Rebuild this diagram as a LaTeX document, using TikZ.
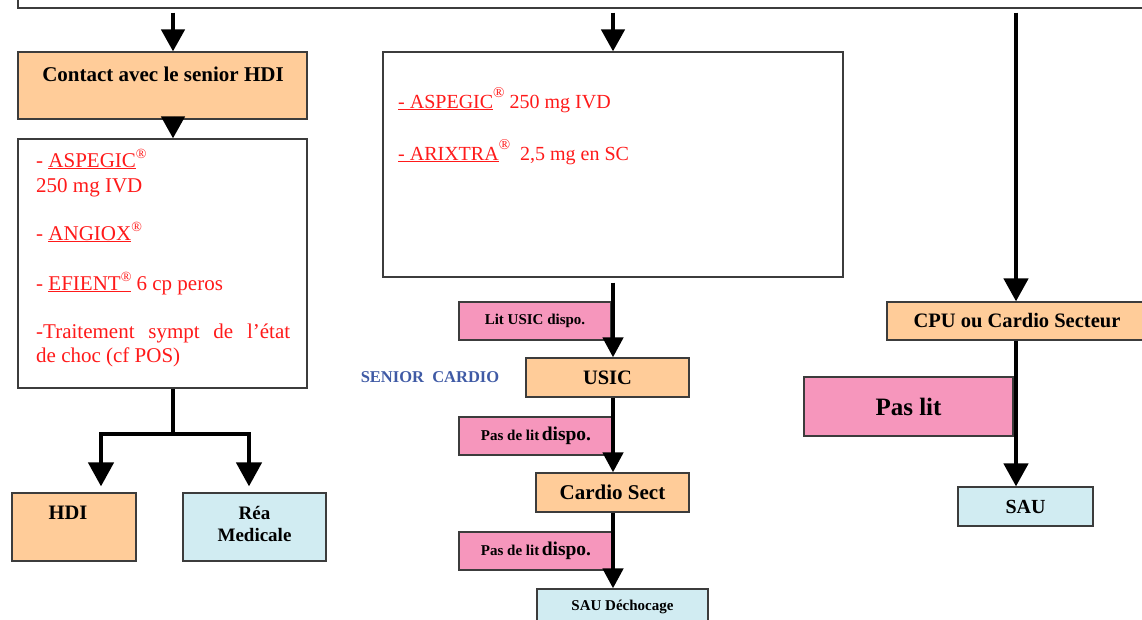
\documentclass[tikz,border=0pt]{standalone}
\usepackage{fontspec}
\setmainfont{Liberation Serif}
\usetikzlibrary{arrows.meta}
\definecolor{peach}{HTML}{FFCC99}
\definecolor{pinkl}{HTML}{F696BC}
\definecolor{lblue}{HTML}{D1ECF2}
\definecolor{sblue}{HTML}{3F5AA5}
\definecolor{bord}{HTML}{3C3C3C}
\definecolor{redt}{HTML}{FF1A1A}
\newcommand\myfs[2]{\fontsize{#1}{#2}\selectfont}
\newcommand\myreg[2]{\raisebox{#2}{\myfs{#1}{#1}®}}
\begin{document}
\begin{tikzpicture}[x=1pt,y=-1pt,
  box/.style={draw=bord, line width=1.2pt, inner sep=0pt, align=center, font=\bfseries},
  peachbox/.style={box, fill=peach},
  pinkbox/.style={box, fill=pinkl},
  bluebox/.style={box, fill=lblue},
  whitebox/.style={box, fill=white},
  txt/.style={inner sep=0pt, align=center, font=\bfseries},
  redtxt/.style={inner sep=0pt, anchor=base west, text=redt},
  ln/.style={line width=4.5pt, draw=black},
  arr/.style={ln, -{Triangle[width=23pt,length=22pt]}},
  arrm/.style={ln, -{Triangle[width=20pt,length=20pt]}},
]
\useasboundingbox (0,0) rectangle (1142,619);
\clip (0,0) rectangle (1142,619);

% top box
\node[whitebox, minimum width=1144pt, minimum height=56pt] (topbox) at (590,-20) {};

% column coordinates
\coordinate (colL) at (173,0);
\coordinate (colR) at (1016,0);

% left column
\node[peachbox, minimum width=289pt, minimum height=67pt] (contact) at (162.5,85.5) {};
\node[txt, font=\bfseries\myfs{21}{24}] (contactT) at (163,74) {Contact avec le senior HDI};

\node[whitebox, minimum width=289pt, minimum height=249pt] (leftbox) at (162.5,263.5) {};
\begin{scope}[every node/.style={redtxt, font=\myfs{21}{24}}]
\node (l1) at (36,167) {- \underline{ASPEGIC}\myreg{14}{9pt}};
\node (l2) at (36,192) {250 mg IVD};
\node (l3) at (36,240) {- \underline{ANGIOX}\myreg{14}{9pt}};
\node (l4) at (36,290) {- \underline{EFIENT\myreg{14}{9pt}} 6 cp peros};
\node (l5) at (36,338) {\makebox[254pt][s]{-Traitement sympt de l’état}};
\node (l6) at (36,362) {de choc (cf POS)};
\end{scope}

\node[peachbox, minimum width=124pt, minimum height=68pt] (hdi) at (74,527) {};
\node[txt, font=\bfseries\myfs{20.5}{24}] (hdiT) at (68,513) {HDI};
\node[bluebox, minimum width=143pt, minimum height=68pt] (rea) at (254.5,527) {};
\node[txt, font=\bfseries\myfs{19}{22}] (reaT) at (254.5,524) {Réa\\Medicale};

% middle column
\node[whitebox, minimum width=460pt, minimum height=225pt] (midbox) at (613,164.5) {};
\begin{scope}[every node/.style={redtxt, font=\myfs{20}{24}}]
\node (m1) at (398,108) {\underline{- ASPEGIC}\myreg{15}{11pt} 250 mg IVD};
\node (m2) at (398,160) {\underline{- ARIXTRA}\myreg{15}{11pt}\ \ 2,5 mg en SC};
\end{scope}

\node[pinkbox, minimum width=152pt, minimum height=38pt, font=\bfseries\myfs{15}{18}] (litusic) at (535,321) {Lit USIC dispo.};
\node[txt, text=sblue, font=\bfseries\myfs{16.5}{20}] (senior) at (430,377) {SENIOR\ \ CARDIO};
\node[peachbox, minimum width=163pt, minimum height=39pt, font=\bfseries\myfs{20.5}{24}] (usic) at (607.5,377.5) {USIC};
\node[pinkbox, minimum width=154pt, minimum height=38pt] (pasdelit1) at (536,436) {{\myfs{15}{18}Pas de lit} {\myfs{19.5}{22}dispo.}};
\node[peachbox, minimum width=153pt, minimum height=39pt, font=\bfseries\myfs{21}{24}] (cardio) at (612.5,492.5) {Cardio Sect};
\node[pinkbox, minimum width=154pt, minimum height=38pt] (pasdelit2) at (536,551) {{\myfs{15}{18}Pas de lit} {\myfs{19.5}{22}dispo.}};
\node[bluebox, minimum width=171pt, minimum height=36pt, font=\bfseries\myfs{15}{18}] (saud) at (622.5,607) {SAU Déchocage};

% right column
\node[peachbox, minimum width=260pt, minimum height=38pt, font=\bfseries\myfs{20.5}{24}] (cpu) at (1017,321) {CPU ou Cardio Secteur};
\node[pinkbox, minimum width=209pt, minimum height=59pt, font=\bfseries\myfs{25}{28}] (paslit) at (908.5,406.5) {Pas lit};
\node[bluebox, minimum width=135pt, minimum height=39pt, font=\bfseries\myfs{20}{24}] (sau) at (1025.5,506.5) {SAU};

% connectors left
\draw[arr] ([yshift=-4pt]topbox.south -| colL) -- (contact.north -| colL);
\draw[arr] ([yshift=3pt]contact.south -| colL) -- (leftbox.north -| colL);
\coordinate (jn) at (173,434);
\coordinate (bl) at (101,434);
\coordinate (br) at (249,434);
\draw[ln] (leftbox.south -| jn) -- (jn);
\draw[arr, -{Triangle[width=25pt,length=24pt]}] (jn) -- (bl) -- ([yshift=6pt]bl |- hdi.north);
\draw[arr, -{Triangle[width=25pt,length=24pt]}] (jn) -- (br) -- ([yshift=6pt]br |- rea.north);

% connectors middle
\draw[arr] ([yshift=-4pt]topbox.south -| midbox.north) -- (midbox.north);
\draw[arrm] ([yshift=-5pt]midbox.south) -- (midbox.south |- usic.north);
\draw[arrm] (midbox.south |- usic.south) -- (midbox.south |- cardio.north);
\draw[arrm] (midbox.south |- cardio.south) -- (midbox.south |- saud.north);

% connectors right
\draw[arr, -{Triangle[width=24pt,length=23pt]}] ([yshift=-4pt]topbox.south -| colR) -- (colR |- cpu.north);
\draw[arr, -{Triangle[width=24pt,length=23pt]}] (colR |- cpu.south) -- (colR |- sau.north);
\end{tikzpicture}
\end{document}
